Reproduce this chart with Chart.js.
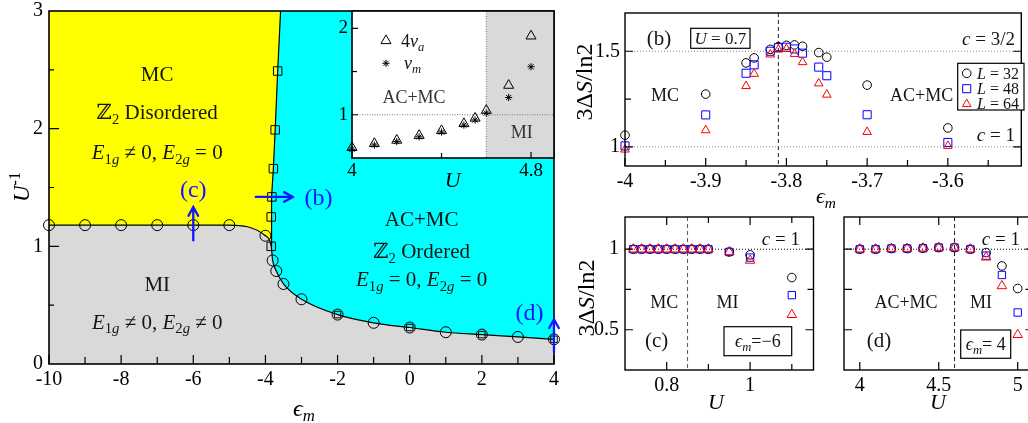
<!DOCTYPE html>
<html>
<head>
<meta charset="utf-8">
<title>Phase diagram and entanglement entropy</title>
<script src="https://cdn.jsdelivr.net/npm/chart.js@4.4.1/dist/chart.umd.min.js"></script>
<style>
  html, body { margin: 0; padding: 0; background: #fff; }
  body { position: relative; width: 1028px; height: 423px; overflow: hidden; }
  canvas { position: absolute; }
</style>
</head>
<body>
<canvas id="main" width="575" height="423" style="left:0;top:0"></canvas>
<canvas id="inset" width="252" height="195" style="left:322px;top:0"></canvas>
<canvas id="pb" width="458" height="215" style="left:570px;top:0"></canvas>
<canvas id="pc" width="250" height="223" style="left:570px;top:200px"></canvas>
<canvas id="pd" width="228" height="223" style="left:822px;top:200px"></canvas>
<script>
const SERIF = '"Liberation Serif", "DejaVu Serif", serif';
const INK = '#151515';
const BLUE = '#1414ff';
const GRAY = '#d9d9d9';

// (a) phase boundary into the MI phase (circles)
const miEps  = [-10, -9, -8, -7, -6, -5, -4, -3.8, -3.7, -3.5, -3, -2, -1, 0, 1, 2, 3, 4];
const miUinv = [1.18, 1.18, 1.18, 1.18, 1.18, 1.18, 1.09, 0.88, 0.79, 0.68, 0.55, 0.42, 0.35, 0.31, 0.27, 0.25, 0.23, 0.21];
// Z2 transition MC -> AC+MC (squares), and where that line leaves the top
const z2Eps  = [-3.84, -3.84, -3.82, -3.78, -3.73, -3.66];
const z2Uinv = [1.0, 1.25, 1.42, 1.66, 1.99, 2.49];
const z2EndEps = -3.58, z2EndUinv = 3.0;
// points where a second symbol sits on the MI boundary
const dblEps  = [-2, 0, 2, 4];
const dblUinv = [0.42, 0.31, 0.25, 0.21];
const aXMajor = [-10, -8, -6, -4, -2, 0, 2, 4], aXMinor = [-9, -7, -5, -3, -1, 1, 3];
const aYMajor = [0, 1, 2, 3], aYMinor = [0.5, 1.5, 2.5];

// inset: Luttinger parameters along eps_m = 4
const insU  = [4.0, 4.1, 4.2, 4.3, 4.4, 4.5, 4.55, 4.6, 4.7, 4.8];
const nuA4  = [0.62, 0.667, 0.705, 0.76, 0.816, 0.897, 0.96, 1.05, 1.34, 1.91];
const nuM   = [0.60, 0.65, 0.69, 0.745, 0.80, 0.88, 0.94, 1.02, 1.20, 1.555];
const insUc = 4.6;
const insXMajor = [4, 4.8], insXMinor = [4.4], insYMajor = [1, 2], insYMinor = [1.5];

// (b) U = 0.7 cut
const bEps = [-4, -3.9, -3.85, -3.84, -3.82, -3.81, -3.80, -3.79, -3.78, -3.76, -3.75, -3.7, -3.6];
const bL32 = [1.061, 1.276, 1.439, 1.465, 1.510, 1.524, 1.531, 1.533, 1.526, 1.493, 1.469, 1.323, 1.099];
const bL48 = [1.005, 1.167, 1.385, 1.429, 1.500, 1.519, 1.521, 1.512, 1.490, 1.417, 1.372, 1.168, 1.023];
const bL64 = [0.986, 1.087, 1.318, 1.382, 1.483, 1.509, 1.512, 1.486, 1.443, 1.332, 1.273, 1.078, 1.005];
const bEpsC = -3.81;
const bXMajor = [-4, -3.9, -3.8, -3.7, -3.6], bXMinor = [-3.95, -3.85, -3.75, -3.65, -3.55];
const bYMajor = [1, 1.5], bYMinor = [1.25];

// (c) eps_m = -6 cut
const cU   = [0.72, 0.74, 0.76, 0.78, 0.80, 0.82, 0.84, 0.86, 0.88, 0.90, 0.95, 1.0, 1.1];
const cL32 = [1, 1, 1, 1, 1, 1, 1, 1, 1, 1, 0.983, 0.965, 0.824];
const cL48 = [1, 1, 1, 1, 1, 1, 1, 1, 1, 1, 0.983, 0.948, 0.715];
const cL64 = [1, 1, 1, 1, 1, 1, 1, 1, 1, 1, 0.983, 0.930, 0.593];
const cUc = 0.85;
const cXMajor = [0.8, 1], cXMinor = [0.9, 1.1], cYMajor = [0.5, 1], cYMinor = [0.75];

// (d) eps_m = 4 cut
const dU   = [4.0, 4.1, 4.2, 4.3, 4.4, 4.5, 4.6, 4.7, 4.8, 4.9, 5.0];
const dL32 = [1.0, 1.0, 1.004, 1.004, 1.006, 1.01, 1.01, 1.0, 0.979, 0.896, 0.756];
const dL48 = [1.0, 1.0, 1.004, 1.004, 1.006, 1.01, 1.01, 1.0, 0.960, 0.840, 0.607];
const dL64 = [1.0, 1.0, 1.004, 1.004, 1.006, 1.01, 1.01, 1.0, 0.950, 0.772, 0.469];
const dUc = 4.6;
const dXMajor = [4, 4.5, 5], dYTicks = [0.5, 0.75, 1];

Chart.defaults.font.family = SERIF;
Chart.defaults.color = '#000';
Chart.defaults.animation = false;
Chart.defaults.responsive = false;

const pts = (xs, ys) => xs.map((x, i) => ({ x, y: ys[i] }));

function marks(xs, ys, style, r, color, order) {
  return {
    data: pts(xs, ys), showLine: false, pointStyle: style, pointRadius: r,
    pointBorderColor: color, pointBackgroundColor: 'transparent', pointBorderWidth: 1,
    clip: false, order
  };
}

function axis(min, max, major, size, fit, pad) {
  return {
    type: 'linear', min, max,
    afterBuildTicks: s => { s.ticks = major.map(v => ({ value: v })); },
    afterFit: s => {
      if (s.isHorizontal()) s.height = fit; else s.width = fit;
      s.paddingTop = s.paddingBottom = s.paddingLeft = s.paddingRight = 0;
    },
    grid: { display: false, drawTicks: false },
    border: { display: false },
    ticks: { autoSkip: false, maxRotation: 0, padding: pad, font: { size }, callback: v => String(v) }
  };
}

// y scale that keeps its range but draws no labels (the frame plugin draws its ticks)
const bareAxis = (min, max) => ({ type: 'linear', min, max, display: false });

// text with italic / sub / superscript runs, y is the middle of the capitals
function rich(ctx, parts, x, y, size, align = 'center', color = INK, rot = 0) {
  const fnt = f => (f.includes('i') ? 'italic ' : '') + (/[_^]/.test(f) ? size * 0.7 : size).toFixed(1) + 'px ' + SERIF;
  ctx.save();
  ctx.translate(x, y);
  if (rot) ctx.rotate(rot);
  ctx.textAlign = 'left';
  ctx.textBaseline = 'alphabetic';
  let w = 0;
  for (const [t, f = ''] of parts) { ctx.font = fnt(f); w += ctx.measureText(t).width; }
  let cx = align === 'left' ? 0 : align === 'right' ? -w : -w / 2;
  ctx.fillStyle = color;
  for (const [t, f = ''] of parts) {
    ctx.font = fnt(f);
    const dy = f.includes('_') ? size * 0.22 : f.includes('^') ? -size * 0.38 : 0;
    ctx.fillText(t, cx, size * 0.33 + dy);
    cx += ctx.measureText(t).width;
  }
  ctx.restore();
}

function shape(ctx, style, x, y, r, color) {
  ctx.save();
  ctx.strokeStyle = color; ctx.lineWidth = 1;
  ctx.beginPath();
  if (style === 'circle') ctx.arc(x, y, r, 0, 2 * Math.PI);
  else if (style === 'rect') { const s = r * Math.SQRT1_2; ctx.rect(x - s, y - s, 2 * s, 2 * s); }
  else if (style === 'triangle') {
    for (let i = 0; i < 3; i++) {
      const t = i * 2 * Math.PI / 3;
      i ? ctx.lineTo(x + Math.sin(t) * r, y - Math.cos(t) * r) : ctx.moveTo(x + Math.sin(t) * r, y - Math.cos(t) * r);
    }
    ctx.closePath();
  } else {
    for (let i = 0; i < 4; i++) {
      const t = i * Math.PI / 4;
      ctx.moveTo(x + Math.cos(t) * r, y + Math.sin(t) * r);
      ctx.lineTo(x - Math.cos(t) * r, y - Math.sin(t) * r);
    }
  }
  ctx.stroke();
  ctx.restore();
}

function frame(ctx, a, w = 1.4) {
  ctx.save(); ctx.strokeStyle = '#000'; ctx.lineWidth = w;
  ctx.strokeRect(a.left, a.top, a.right - a.left, a.bottom - a.top);
  ctx.restore();
}

function tickX(ctx, k, vals, len, sides = 'b') {
  ctx.save(); ctx.strokeStyle = '#000'; ctx.lineWidth = 1.2; ctx.beginPath();
  for (const v of vals) {
    const x = k.X(v);
    if (sides.includes('b')) { ctx.moveTo(x, k.a.bottom); ctx.lineTo(x, k.a.bottom - len); }
    if (sides.includes('t')) { ctx.moveTo(x, k.a.top); ctx.lineTo(x, k.a.top + len); }
  }
  ctx.stroke(); ctx.restore();
}

function tickY(ctx, k, vals, len, sides = 'l') {
  ctx.save(); ctx.strokeStyle = '#000'; ctx.lineWidth = 1.2; ctx.beginPath();
  for (const v of vals) {
    const y = k.Y(v);
    if (sides.includes('l')) { ctx.moveTo(k.a.left, y); ctx.lineTo(k.a.left + len, y); }
    if (sides.includes('r')) { ctx.moveTo(k.a.right, y); ctx.lineTo(k.a.right - len, y); }
  }
  ctx.stroke(); ctx.restore();
}

function hline(ctx, k, v, color, dash) {
  ctx.save(); ctx.strokeStyle = color; ctx.lineWidth = 1; ctx.setLineDash(dash);
  ctx.beginPath(); ctx.moveTo(k.a.left, k.Y(v)); ctx.lineTo(k.a.right, k.Y(v)); ctx.stroke();
  ctx.restore();
}

function vline(ctx, k, v, color, dash) {
  ctx.save(); ctx.strokeStyle = color; ctx.lineWidth = 1; ctx.setLineDash(dash);
  ctx.beginPath(); ctx.moveTo(k.X(v), k.a.top); ctx.lineTo(k.X(v), k.a.bottom); ctx.stroke();
  ctx.restore();
}

function arrow(ctx, x1, y1, x2, y2) {
  const t = Math.atan2(y2 - y1, x2 - x1), h = 10, s = 0.5;
  ctx.save(); ctx.strokeStyle = BLUE; ctx.lineWidth = 2.3; ctx.lineCap = 'round';
  ctx.beginPath();
  ctx.moveTo(x1, y1); ctx.lineTo(x2, y2);
  ctx.moveTo(x2 - h * Math.cos(t - s), y2 - h * Math.sin(t - s));
  ctx.lineTo(x2, y2);
  ctx.lineTo(x2 - h * Math.cos(t + s), y2 - h * Math.sin(t + s));
  ctx.stroke(); ctx.restore();
}

function boxed(ctx, parts, x0, y0, x1, y1, size) {
  ctx.save();
  ctx.fillStyle = '#fff'; ctx.fillRect(x0, y0, x1 - x0, y1 - y0);
  ctx.strokeStyle = '#000'; ctx.lineWidth = 1.2; ctx.strokeRect(x0, y0, x1 - x0, y1 - y0);
  ctx.restore();
  rich(ctx, parts, (x0 + x1) / 2, (y0 + y1) / 2, size);
}

function kit(c, ox, oy) {
  const sx = c.scales.x, sy = c.scales.y;
  return {
    a: c.chartArea,
    X: v => sx.getPixelForValue(v), Y: v => sy.getPixelForValue(v),
    px: v => v - ox, py: v => v - oy
  };
}

function panel(id, ox, oy, datasets, x, y, padding, under, over) {
  return new Chart(document.getElementById(id), {
    type: 'line',
    data: { datasets },
    options: {
      layout: { padding },
      scales: { x, y },
      events: [],
      plugins: { legend: { display: false }, tooltip: { enabled: false } }
    },
    plugins: [{
      id: 'deco',
      beforeDatasetsDraw(c) { if (under) under(c.ctx, kit(c, ox, oy)); },
      afterDraw(c) { over(c.ctx, kit(c, ox, oy)); }
    }]
  });
}

const E = (a, b, c, d) => [['E', 'i'], [a, '_'], ['g', '_i'], [b], ['E', 'i'], [c, '_'], ['g', '_i'], [d]];
const Z2 = rest => [['\u2124'], ['2', '_'], [rest]];
const epsM = [['\u03f5', 'i'], ['m', '_i']];
const dS = [['3\u0394'], ['S', 'i'], ['/ln2']];

// ---------- (a) phase diagram ----------
const curve = pts(miEps, miUinv);
curve.splice(7, 0, { x: z2Eps[0], y: z2Uinv[0] });
const z2Line = pts(z2Eps, z2Uinv).concat([{ x: z2EndEps, y: z2EndUinv }]);
const mcArea = curve.slice(0, 8).concat(z2Line.slice(1));

panel('main', 0, 0, [
  marks(dblEps, dblUinv, 'rect', 4.6, '#000', 0),
  marks(miEps, miUinv, 'circle', 5.5, '#000', 1),
  Object.assign(marks(z2Eps.concat([z2EndEps]), z2Uinv.concat([z2EndUinv]), 'rect', 6, '#000', 2),
    { showLine: true, borderColor: '#000', borderWidth: 1.2, tension: 0, pointRadius: z2Eps.map(() => 6).concat([0]) }),
  { data: curve, fill: 'origin', backgroundColor: GRAY, borderColor: '#000', borderWidth: 1.2,
    pointRadius: 0, cubicInterpolationMode: 'monotone', order: 3 },
  { data: mcArea, fill: 'end', backgroundColor: '#ffff00', borderColor: 'transparent', borderWidth: 0,
    pointRadius: 0, tension: 0, order: 4 },
  { data: curve, fill: 'end', backgroundColor: '#00ffff', borderColor: 'transparent', borderWidth: 0,
    pointRadius: 0, cubicInterpolationMode: 'monotone', order: 5 }
],
  axis(-10, 4, aXMajor, 20, 59, 4),
  axis(0, 3, aYMajor, 20, 49, 6),
  { top: 11, right: 21, left: 0, bottom: 0 },
  null,
  (ctx, k) => {
    frame(ctx, k.a, 1.6);
    tickX(ctx, k, aXMajor, 9); tickX(ctx, k, aXMinor, 7);
    tickY(ctx, k, [1, 2], 10); tickY(ctx, k, aYMinor, 5);
    rich(ctx, [['MC']], k.X(-7), k.Y(2.46), 21);
    rich(ctx, Z2(' Disordered'), k.X(-7), k.Y(2.14), 21);
    rich(ctx, E('1', ' \u2260 0, ', '2', ' = 0'), k.X(-7), k.Y(1.80), 21);
    rich(ctx, [['MI']], k.X(-7), k.Y(0.68), 21);
    rich(ctx, E('1', ' \u2260 0, ', '2', ' \u2260 0'), k.X(-7), k.Y(0.36), 21);
    rich(ctx, [['AC+MC']], k.X(0.33), k.Y(1.23), 21);
    rich(ctx, Z2(' Ordered'), k.X(0.33), k.Y(0.96), 21);
    rich(ctx, E('1', ' = 0, ', '2', ' = 0'), k.X(0.33), k.Y(0.72), 21);
    arrow(ctx, k.X(-6), k.Y(1.05), k.X(-6), k.Y(1.335));
    arrow(ctx, k.X(-4.27), k.Y(1.42), k.X(-3.24), k.Y(1.42));
    arrow(ctx, k.X(4), k.Y(0.1), k.X(4), k.Y(0.38));
    rich(ctx, [['(c)']], k.X(-6), k.Y(1.49), 24, 'center', BLUE);
    rich(ctx, [['(b)']], k.X(-2.53), k.Y(1.415), 24, 'center', BLUE);
    rich(ctx, [['(d)']], k.X(3.32), k.Y(0.437), 24, 'center', BLUE);
    rich(ctx, [['U', 'i'], ['-1', '^']], 21, 187, 23, 'center', '#000', -Math.PI / 2);
    rich(ctx, epsM, 304, 408, 24, 'center', '#000');
  });

// ---------- inset ----------
panel('inset', 322, 0, [
  marks(insU, nuA4, 'triangle', 5.8, '#000', 0),
  marks(insU, nuM, 'star', 3.6, '#000', 1)
],
  axis(4, 4.9026, insXMajor, 19, 37, 2),
  axis(0.5, 2.2, insYMajor, 19, 30, 4),
  { top: 11, right: 20, left: 0, bottom: 0 },
  (ctx, k) => {
    const a = k.a, xc = k.X(insUc);
    ctx.save();
    ctx.fillStyle = '#fff'; ctx.fillRect(a.left, a.top, a.right - a.left, a.bottom - a.top);
    ctx.fillStyle = GRAY; ctx.fillRect(xc, a.top, a.right - xc, a.bottom - a.top);
    ctx.restore();
    hline(ctx, k, 1, '#777', [1, 1.5]);
    vline(ctx, k, insUc, '#777', [1, 1.5]);
  },
  (ctx, k) => {
    frame(ctx, k.a, 1.6);
    tickX(ctx, k, insXMajor, 6); tickX(ctx, k, insXMinor, 5);
    tickY(ctx, k, insYMajor, 6); tickY(ctx, k, insYMinor, 5);
    shape(ctx, 'triangle', k.px(386), k.py(40.7), 5.8, '#000');
    shape(ctx, 'star', k.px(386), k.py(63.3), 3.6, '#000');
    rich(ctx, [['4'], ['\u03bd', 'i'], ['a', '_i']], k.px(401), k.py(40.7), 18, 'left');
    rich(ctx, [['\u03bd', 'i'], ['m', '_i']], k.px(404), k.py(63.3), 18, 'left');
    rich(ctx, [['AC+MC']], k.px(414), k.py(96.7), 18, 'center', '#333');
    rich(ctx, [['MI']], k.px(521.7), k.py(132.3), 18, 'center', '#333');
    rich(ctx, [['U', 'i']], k.px(452.7), k.py(180), 22, 'center', '#000');
  });

// ---------- (b) ----------
panel('pb', 570, 0, [
  marks(bEps, bL64, 'triangle', 5, '#ff0000', 1),
  marks(bEps, bL48, 'rect', 5.7, '#0000ff', 2),
  marks(bEps, bL32, 'circle', 4.3, '#000', 3)
],
  axis(-4, -3.509, bXMajor, 20, 49, 4),
  axis(0.9, 1.7, bYMajor, 20, 55, 5),
  { top: 13, right: 1, left: 0, bottom: 0 },
  (ctx, k) => {
    hline(ctx, k, 1.5, '#888', [1, 2]);
    hline(ctx, k, 1, '#888', [1, 2]);
    vline(ctx, k, bEpsC, '#222', [4, 3]);
  },
  (ctx, k) => {
    frame(ctx, k.a, 1.4);
    tickX(ctx, k, bXMajor, 8); tickX(ctx, k, bXMinor, 6);
    tickY(ctx, k, bYMajor, 8, 'lr'); tickY(ctx, k, bYMinor, 6, 'lr');
    rich(ctx, [['(b)']], k.px(659), k.py(38.3), 21);
    boxed(ctx, [['U', 'i'], [' = 0.7']], k.px(690.7), k.py(28.3), k.px(750), k.py(48.3), 17);
    rich(ctx, [['c', 'i'], [' = 3/2']], k.px(1015), k.py(38.3), 19, 'right');
    rich(ctx, [['MC']], k.px(665), k.py(95), 18);
    rich(ctx, [['AC+MC']], k.px(921.7), k.py(95), 18);
    rich(ctx, [['c', 'i'], [' = 1']], k.px(1015), k.py(135), 19, 'right');
    ctx.save();
    ctx.fillStyle = '#fff'; ctx.strokeStyle = '#000'; ctx.lineWidth = 1.2;
    ctx.fillRect(k.px(957.7), k.py(63.3), 66.3, 46.7);
    ctx.strokeRect(k.px(957.7), k.py(63.3), 66.3, 46.7);
    ctx.restore();
    [['circle', 4.3, '#000', '32'], ['rect', 5.7, '#0000ff', '48'], ['triangle', 5, '#ff0000', '64']]
      .forEach(([st, r, col, n], i) => {
        const yy = k.py(73.3 + i * 15.4);
        shape(ctx, st, k.px(966.7), yy, r, col);
        rich(ctx, [['L', 'i'], [' = ' + n]], k.px(977), yy, 16, 'left');
      });
    rich(ctx, dS, k.px(584), k.py(82), 24, 'center', '#000', -Math.PI / 2);
    rich(ctx, epsM, k.px(826), k.py(196), 22, 'center', '#000');
  });

// ---------- (c) ----------
panel('pc', 570, 200, [
  marks(cU, cL64, 'triangle', 5.5, '#ff0000', 1),
  marks(cU, cL48, 'rect', 5.2, '#0000ff', 2),
  marks(cU, cL32, 'circle', 4.3, '#000', 3)
],
  axis(0.7, 1.152, cXMajor, 20, 53, 4),
  axis(0.25, 1.2, cYMajor, 20, 55, 6),
  { top: 17, right: 5, left: 0, bottom: 0 },
  (ctx, k) => {
    hline(ctx, k, 1, '#000', [1, 2]);
    vline(ctx, k, cUc, '#555', [4, 3]);
  },
  (ctx, k) => {
    frame(ctx, k.a, 1.4);
    tickX(ctx, k, cXMajor, 8, 'bt'); tickX(ctx, k, cXMinor, 6, 'bt');
    tickY(ctx, k, cYMajor, 8, 'lr'); tickY(ctx, k, cYMinor, 6, 'lr');
    rich(ctx, [['c', 'i'], [' = 1']], k.px(800), k.py(238.3), 19, 'right');
    rich(ctx, [['MC']], k.px(664.3), k.py(301.7), 18);
    rich(ctx, [['MI']], k.px(727.5), k.py(301.7), 18);
    rich(ctx, [['(c)']], k.px(656.7), k.py(340), 21);
    boxed(ctx, epsM.concat([['=\u22126']]), k.px(724), k.py(326.7), k.px(791.7), k.py(355.7), 18);
    rich(ctx, dS, k.px(586), k.py(298), 24, 'center', '#000', -Math.PI / 2);
    rich(ctx, [['U', 'i']], k.px(716), k.py(402), 22, 'center', '#000');
  });

// ---------- (d) ----------
panel('pd', 822, 200, [
  marks(dU, dL64, 'triangle', 5.5, '#ff0000', 1),
  marks(dU, dL48, 'rect', 5.2, '#0000ff', 2),
  marks(dU, dL32, 'circle', 4.3, '#000', 3)
],
  axis(3.9, 5.1, dXMajor, 20, 53, 4),
  bareAxis(0.25, 1.2),
  { top: 17, right: 16.5, left: 22, bottom: 0 },
  (ctx, k) => {
    hline(ctx, k, 1, '#000', [1, 2]);
    vline(ctx, k, dUc, '#222', [4, 3]);
  },
  (ctx, k) => {
    frame(ctx, k.a, 1.4);
    tickX(ctx, k, dXMajor, 8, 'bt');
    tickY(ctx, k, dYTicks, 8, 'lr');
    rich(ctx, [['c', 'i'], [' = 1']], k.px(1020), k.py(238.3), 19, 'right');
    rich(ctx, [['AC+MC']], k.px(906), k.py(301.7), 18);
    rich(ctx, [['MI']], k.px(981), k.py(301.7), 18);
    rich(ctx, [['(d)']], k.px(879), k.py(340), 21);
    boxed(ctx, epsM.concat([['= 4']]), k.px(960.7), k.py(330), k.px(1010.7), k.py(358.3), 18);
    rich(ctx, [['U', 'i']], k.px(938), k.py(402), 22, 'center', '#000');
  });
</script>
</body>
</html>
